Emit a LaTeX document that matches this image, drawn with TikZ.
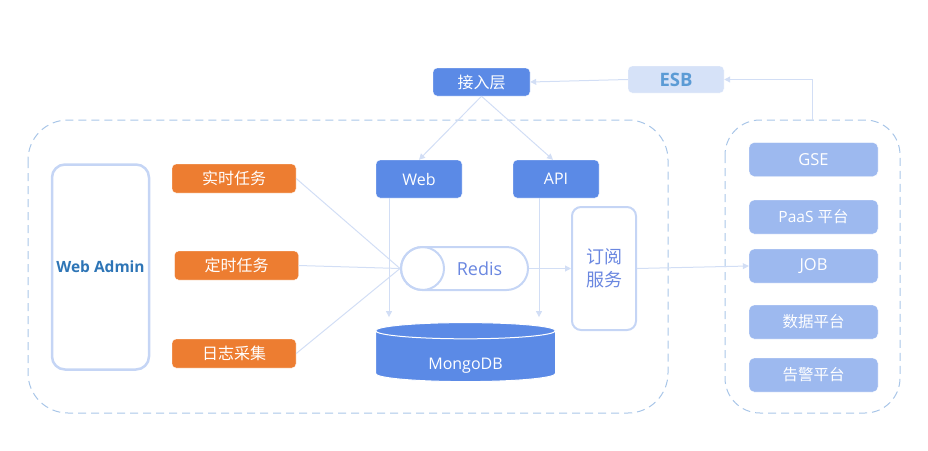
\documentclass[tikz,border=0pt]{standalone}
\usepackage{fontspec}
\setmainfont{Open Sans}
\newfontfamily\cjk{Noto Sans CJK SC}
\usetikzlibrary{shapes.geometric,arrows.meta}

\definecolor{boxblue}{HTML}{5B8AE6}
\definecolor{boxorange}{HTML}{ED7D31}
\definecolor{platblue}{HTML}{9DB9EF}
\definecolor{esbfill}{HTML}{D6E2F8}
\definecolor{esbtext}{HTML}{5B9BD5}
\definecolor{outline}{HTML}{C5D5F5}
\definecolor{linkline}{HTML}{D2DEF5}
\definecolor{dashline}{HTML}{A9C6E8}
\definecolor{admintext}{HTML}{2E75B6}
\definecolor{redistext}{HTML}{6A87E0}

\tikzset{
    bluebox/.style={fill=boxblue, draw=white, rounded corners=4, text=white, font=\fontsize{16}{18}\selectfont},
    taskbox/.style={fill=boxorange, draw=white, rounded corners=4, text=white, minimum width=124, minimum height=29, font=\cjk\fontsize{16}{18}\selectfont},
    platbox/.style={fill=platblue, draw=white, rounded corners=5, text=white, minimum width=129, minimum height=34, font=\fontsize{16.5}{18}\selectfont},
    link/.style={draw=linkline, line width=1},
    linkarrow/.style={link, -{Triangle[width=6,length=6]}},
    group/.style={draw=dashline, line width=1, dash pattern=on 8 off 5}
}

\begin{document}
\begin{tikzpicture}[x=1pt, y=-1pt]

    % Fix the canvas to the size of the reference
    \useasboundingbox (0,0) rectangle (928,450);

    % Dashed group frames
    \draw[group, rounded corners=40] (28,120) rectangle (668,413);
    \draw[group, rounded corners=35] (725,120) rectangle (900,413);

    % Top row: access layer and ESB
    \node[bluebox, minimum width=97, minimum height=28, font=\cjk\fontsize{16}{18}\selectfont] (access) at (481.5,82) {接入层};
    \node[fill=esbfill, draw=white, rounded corners=4, minimum width=96, minimum height=27,
          text=esbtext, font=\fontsize{18.5}{20}\selectfont\bfseries] (esb) at (676,79.5) {ESB};

    % Left column: web admin and the three task boxes
    \node[draw=outline, line width=2.5, rounded corners=13, minimum width=97, minimum height=205,
          text=admintext, font=\fontsize{15.5}{17}\selectfont\bfseries] (admin) at (100.5,267) {Web Admin};
    \node[taskbox] (realtime) at (234,178.5) {实时任务};
    \node[taskbox] (timed) at (236.5,265.5) {定时任务};
    \node[taskbox] (logs) at (234,353.5) {日志采集};

    % Web and API entry boxes
    \node[bluebox, minimum width=86, minimum height=38] (web) at (419,179) {Web};
    \node[bluebox, minimum width=86, minimum height=38] (api) at (556,179) {API};

    % Redis queue drawn as a pill with a circle at its left end
    \node[draw=outline, line width=2, rounded corners=21.5, minimum width=127, minimum height=43,
          text=redistext, font=\fontsize{18}{20}\selectfont] (redis) at (464.5,268.5) {\hspace{30pt}Redis};
    \node[draw=outline, line width=2, circle, minimum size=43] (redisend) at (422.5,268.5) {};

    % Subscription service
    \node[draw=outline, line width=2, rounded corners=9, minimum width=64, minimum height=123,
          text=redistext, align=center, font=\cjk\fontsize{18}{23}\selectfont] (sub) at (604,268.5) {订阅\\服务};

    % MongoDB storage
    \node[cylinder, shape border rotate=90, aspect=0.2, fill=boxblue, draw=white, line width=1,
          minimum width=180, minimum height=59, text=white, font=\fontsize{16}{18}\selectfont]
          (mongo) at (465.5,357.5) {\raisebox{-12pt}[0pt][0pt]{MongoDB}};

    % Right column: platforms
    \node[platbox] (gse) at (813.5,159.5) {GSE};
    \node[platbox, font=\fontsize{15.5}{17}\selectfont] (paas) at (813.5,217) {PaaS {\cjk 平台}};
    \node[platbox] (job) at (813.5,266) {JOB};
    \node[platbox, font=\cjk\fontsize{15.5}{17}\selectfont] (data) at (813.5,322) {数据平台};
    \node[platbox, font=\cjk\fontsize{15.5}{17}\selectfont] (alarm) at (813.5,375) {告警平台};

    % Access layer fans out to Web and API
    \draw[linkarrow] (access.south) -- (web.north);
    \draw[linkarrow] (access.south) -- ([xshift=-3]api.north);

    % ESB feeds the access layer, platforms feed ESB
    \coordinate (platTop) at (812,120);
    \draw[linkarrow] (esb.west) -- (access.east);
    \draw[linkarrow] (platTop) |- (esb.east);

    % Tasks converge on Redis
    \draw[link] (realtime.east) -- (redis.west);
    \draw[link] (timed.east) -- (redis.west);
    \draw[link] (logs.east) -- (redis.west);

    % Web and API write down into MongoDB
    \draw[linkarrow, shorten >=5] ([xshift=-30]web.south) -- ([xshift=-30]web.south |- mongo.north);
    \draw[linkarrow, shorten >=5] ([xshift=-17]api.south) -- ([xshift=-17]api.south |- mongo.north);

    % Redis to subscription service to JOB
    \draw[linkarrow] (redis.east) -- (sub.west);
    \draw[linkarrow] (sub.east) -- (job.west);

\end{tikzpicture}
\end{document}
